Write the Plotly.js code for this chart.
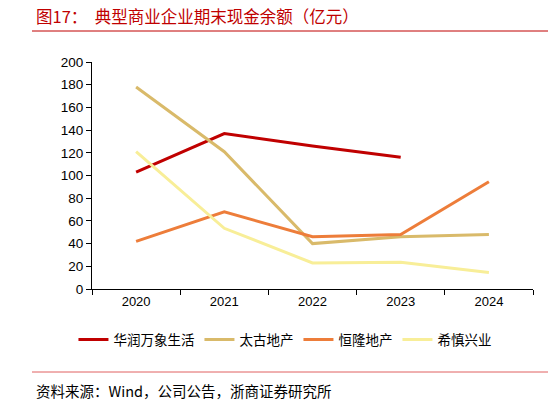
<!DOCTYPE html>
<html>
<head>
<meta charset="utf-8">
<script src="https://cdn.plot.ly/plotly-3.0.1.min.js"></script>
<style>
  html, body { margin: 0; padding: 0; background: #fff; }
  #chart { width: 548px; height: 402px; }
</style>
</head>
<body>
<div id="chart"></div>
<script>
// Years on the x axis
const years = ['2020', '2021', '2022', '2023', '2024'];

// Cash balance at period end (100 million yuan)
const crMixc = [103, 137, 126, 116, null];
const swireProps = [178, 121, 40, 46, 48];
const hangLung = [42, 68, 46, 48, 94.5];
const hysan = [121, 53.5, 23, 23.5, 14.5];

const seriesNames = ['华润万象生活', '太古地产', '恒隆地产', '希慎兴业'];
const seriesColors = ['#C00000', '#D9BA6A', '#ED7D3A', '#F8EE98'];

const yTicks = [0, 20, 40, 60, 80, 100, 120, 140, 160, 180, 200];

const font = 'Arial, "Liberation Sans", "Noto Sans CJK SC", sans-serif';
const cjk = '"Noto Sans CJK SC", sans-serif';

// Build one line trace per company
function makeTrace(values, i) {
  return {
    x: years,
    y: values,
    name: seriesNames[i],
    type: 'scatter',
    mode: 'lines',
    line: { color: seriesColors[i], width: 3 },
  };
}

const data = [crMixc, swireProps, hangLung, hysan].map(makeTrace);

const layout = {
  width: 548,
  height: 402,
  paper_bgcolor: '#fff',
  plot_bgcolor: '#fff',
  margin: { l: 92, r: 15, t: 62, b: 113 },
  font: { family: font, size: 13, color: '#000' },
  showlegend: true,
  legend: {
    orientation: 'h',
    xref: 'container',
    yref: 'container',
    x: 0.52,
    xanchor: 'center',
    y: 0.155,
    yanchor: 'middle',
    font: { family: cjk, size: 13.5, color: '#000' },
    itemwidth: 30,
    tracegroupgap: 0,
  },
  xaxis: {
    type: 'category',
    tickson: 'boundaries',
    ticks: 'outside',
    ticklen: 5,
    tickcolor: '#000',
    showline: true,
    linecolor: '#000',
    linewidth: 1,
    showgrid: false,
    zeroline: false,
    tickfont: { family: font, size: 13 },
    range: [-0.5, 4.5],
  },
  yaxis: {
    range: [0, 200],
    tickvals: yTicks,
    ticks: 'outside',
    ticklen: 5,
    tickcolor: '#000',
    showline: true,
    linecolor: '#000',
    linewidth: 1,
    showgrid: false,
    zeroline: false,
    tickfont: { family: font, size: 13.5 },
  },
  shapes: [
    {
      type: 'line', xref: 'paper', yref: 'paper',
      x0: -60 / 441, x1: 456 / 441, y0: 1 + 31 / 227, y1: 1 + 31 / 227,
      line: { color: '#C00000', width: 1 },
    },
    {
      type: 'line', xref: 'paper', yref: 'paper',
      x0: -60 / 441, x1: 456 / 441, y0: -83 / 227, y1: -83 / 227,
      line: { color: '#E06060', width: 1 },
    },
  ],
  annotations: [
    {
      text: '图17：  典型商业企业期末现金余额（亿元）',
      xref: 'paper', yref: 'paper',
      x: -58 / 441, y: 1 + 46 / 227,
      xanchor: 'left', yanchor: 'middle',
      showarrow: false,
      font: { family: cjk, size: 16.5, color: '#C00000' },
    },
    {
      text: '资料来源：Wind，公司公告，浙商证券研究所',
      xref: 'paper', yref: 'paper',
      x: -58 / 441, y: -101 / 227,
      xanchor: 'left', yanchor: 'middle',
      showarrow: false,
      font: { family: cjk, size: 14.5, color: '#000' },
    },
  ],
};

const config = { responsive: false, staticPlot: true };

Plotly.newPlot('chart', data, layout, config);
</script>
</body>
</html>
